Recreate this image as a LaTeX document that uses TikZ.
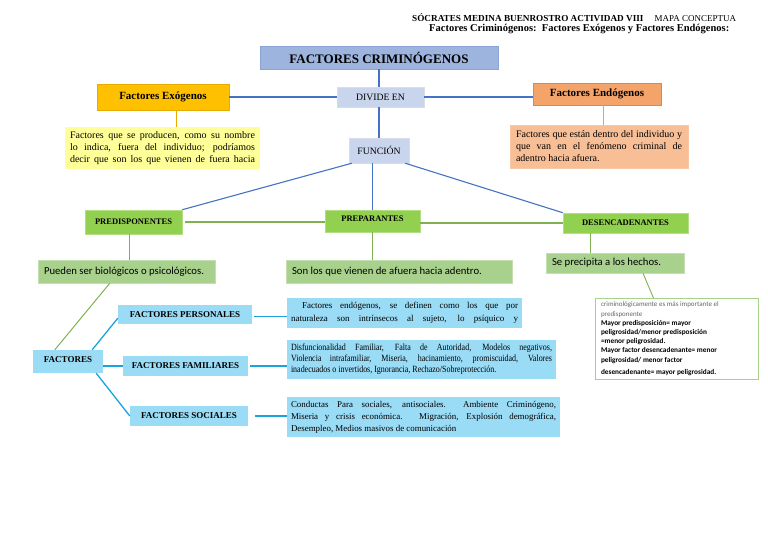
\documentclass[tikz,border=0pt]{standalone}
\usepackage{fontspec}
\setmainfont{Liberation Serif}
\newfontfamily\calfont{Carlito}
\newfontfamily\condfont[FakeStretch=0.84]{Liberation Serif}
\newcommand{\natsp}{\spaceskip=0pt\xspaceskip=0pt\relax}
\newcommand{\jline}[2]{\makebox[#1][s]{\natsp #2}}
\definecolor{titblue}{HTML}{9DB4DF}
\definecolor{titborder}{HTML}{8AA3D4}
\definecolor{divblue}{HTML}{C8D5EC}
\definecolor{lnblue}{HTML}{4472C4}
\definecolor{orangeA}{HTML}{FFC000}
\definecolor{orangeB}{HTML}{E6AC00}
\definecolor{yellowA}{HTML}{FFFF99}
\definecolor{salmonA}{HTML}{F4A46A}
\definecolor{salmonB}{HTML}{F8BF97}
\definecolor{salmonL}{HTML}{E8A06A}
\definecolor{greenA}{HTML}{92D050}
\definecolor{greenB}{HTML}{A9D18E}
\definecolor{greenL}{HTML}{7FB152}
\definecolor{cyanA}{HTML}{9ADBF6}
\definecolor{cyanL}{HTML}{1AA3DD}
\begin{document}
\begin{tikzpicture}[x=1pt,y=-1pt,
  bx/.style={inner sep=0pt, align=center},
  bluebox/.style={bx, fill=titblue, draw=titborder, line width=0.8pt},
  divbox/.style={bx, fill=divblue, draw=divblue!80!black!40, line width=0.5pt},
  orbox/.style={bx, fill=orangeA, draw=orangeB, line width=0.6pt},
  salbox/.style={bx, fill=salmonA, draw=salmonA!85!black, line width=0.5pt},
  grbox/.style={bx, fill=greenA, draw=greenA!70!white, line width=0.6pt},
  pgbox/.style={bx, fill=greenB, draw=greenB!70!white, line width=0.5pt},
  cybox/.style={bx, fill=cyanA},
  jtext/.style={align=left, inner xsep=6pt, inner ysep=0pt},
  bline/.style={draw=lnblue, line width=1.1pt},
  gline/.style={draw=greenL, line width=1.1pt},
  cline/.style={draw=cyanL, line width=1.3pt},
  hdfont/.style={font=\bfseries\fontsize{8.5}{10}\selectfont},
  fachd/.style={font=\bfseries\fontsize{9}{10}\selectfont},
  ser/.style={font=\fontsize{10}{12}\selectfont},
  cal/.style={font=\calfont\fontsize{10.7}{12}\selectfont}
]
\useasboundingbox (0,0) rectangle (768,543);

% header
\node[bx, anchor=west] (h1) at (412,18) {{\fontsize{9.2}{10}\selectfont\bfseries SÓCRATES MEDINA BUENROSTRO ACTIVIDAD VIII}\hspace{1.1em}{\fontsize{9}{10}\selectfont MAPA CONCEPTUA}};
\node[bx, anchor=west] (h2) at (429,29) {\fontsize{10.5}{12}\selectfont\bfseries Factores Criminógenos:\ \ Factores Exógenos y Factores Endógenos:};

% top part
\node[bluebox, minimum width=238pt, minimum height=23pt, font=\bfseries\fontsize{13}{15}\selectfont] (fc) at (379,57.5) {FACTORES CRIMINÓGENOS};
\node[divbox, minimum width=87pt, minimum height=20pt, font=\fontsize{9.7}{11}\selectfont] (div) at (380.5,97) {DIVIDE EN};
\node[orbox, minimum width=132pt, minimum height=26pt, font=\bfseries\fontsize{11}{12}\selectfont] (exo) at (163,97) {Factores Exógenos};
\node[salbox, minimum width=128pt, minimum height=22pt, font=\bfseries\fontsize{11}{12}\selectfont] (endo) at (597,94) {Factores Endógenos};
\node[bx, jtext, fill=yellowA, text width=185pt, inner xsep=5pt, minimum height=42pt, ser] (exoT) at (162.5,148) {\jline{185pt}{Factores que se producen, como su nombre}\\ \jline{185pt}{lo indica, fuera del individuo; podríamos}\\ \jline{185pt}{decir que son los que vienen de fuera hacia}};
\node[bx, jtext, fill=salmonB, draw=salmonA!60, line width=0.5pt, text width=166pt, minimum height=43pt, ser] (endoT) at (599,146.5) {\jline{166pt}{Factores que están dentro del individuo y}\\ \jline{166pt}{que van en el fenómeno criminal de}\\ \natsp adentro hacia afuera.};
\node[divbox, minimum width=60pt, minimum height=25pt, font=\fontsize{9.7}{11}\selectfont] (fun) at (379,150.5) {FUNCIÓN};

\draw[bline] (fc.south) -- (fc.south |- div.north);
\draw[bline] (exo.east) -- (div.west);
\draw[bline] (div.east) -- (div.east -| endo.west);
\draw[bline] (fun.north |- div.south) -- (fun.north);
\draw[draw=orangeB, line width=1pt] ([xshift=13pt]exo.south) -- ([xshift=13pt]exo.south |- exoT.north);
\draw[draw=salmonL, line width=1pt] ([xshift=6pt]endo.south) -- ([xshift=6pt]endo.south |- endoT.north);

% middle
\node[grbox, minimum width=97pt, minimum height=24pt, hdfont] (pre) at (133.5,222) {PREDISPONENTES};
\node[grbox, minimum width=95pt, minimum height=22pt, hdfont] (prep) at (372.5,221) {\raisebox{4pt}{PREPARANTES}};
\node[grbox, minimum width=125pt, minimum height=20pt, hdfont] (des) at (625.5,223) {DESENCADENANTES};

\draw[bline] ([xshift=3pt]fun.south west) -- (pre.north east);
\draw[bline] (fun.south -| prep.north) -- (prep.north);
\draw[bline] ([xshift=-4pt]fun.south east) -- (des.north west);
\draw[gline] ([xshift=3pt]pre.east) -- (pre.east -| prep.west);
\draw[gline] ([yshift=-2pt]prep.east) -- ([yshift=-2pt]prep.east -| des.west);

\node[pgbox, minimum width=177pt, minimum height=23pt, text width=165pt, align=left, cal] (pue) at (126.5,271.5) {\natsp Pueden ser biológicos o psicológicos.};
\node[pgbox, minimum width=226pt, minimum height=23pt, text width=214pt, align=left, cal] (son) at (399,271.5) {\natsp Son los que vienen de afuera hacia adentro.};
\node[pgbox, minimum width=138pt, minimum height=20pt, text width=126pt, align=left, cal] (sep) at (615,263) {\natsp Se precipita a los hechos.};

\draw[gline] ([xshift=-4pt]pre.south) -- ([xshift=-4pt]pre.south |- pue.north);
\draw[gline] (son.north -| prep.south) -- (prep.south);
\draw[gline] ([xshift=-35pt]des.south) -- ([xshift=-35pt]des.south |- sep.north);

\node[bx, draw=greenB, line width=0.8pt, fill=white, minimum width=163pt, minimum height=81pt, text width=151pt, align=left, inner xsep=6pt] (note) at (676.5,339) {\calfont\fontsize{7.3}{9.2}\selectfont\natsp
{\color{black!60}\fontsize{7}{9.2}\selectfont criminológicamente es más importante el\\ predisponente}\\
\textbf{Mayor predisposición= mayor}\\
\textbf{peligrosidad/menor predisposición}\\
\textbf{=menor peligrosidad.}\\
\textbf{Mayor factor desencadenante= menor}\\
\textbf{peligrosidad/ menor factor}\\[0.5pt]
\textbf{desencadenante= mayor peligrosidad.}};
\draw[gline, line width=0.9pt] ([xshift=28pt]sep.south) -- ([xshift=-23pt]note.north);

% bottom
\node[cybox, minimum width=70pt, minimum height=23pt, fachd] (fac) at (68,361.5) {\raisebox{3pt}{FACTORES}};
\node[cybox, minimum width=134pt, minimum height=19pt, fachd] (per) at (185,314.5) {FACTORES PERSONALES};
\node[cybox, minimum width=125pt, minimum height=20pt, fachd] (fam) at (185.5,366) {FACTORES FAMILIARES};
\node[cybox, minimum width=118pt, minimum height=20pt, fachd] (soc) at (189,416) {FACTORES SOCIALES};

\draw[gline, line width=1pt] ([xshift=72pt]pue.south west) -- ([xshift=22pt]fac.north west);
\draw[cline] ([xshift=-11pt]fac.north east) -- ([yshift=6pt]per.south west);
\draw[cline, line width=2pt] (fac.east |- fam.west) -- (fam.west);
\draw[cline] ([xshift=-7pt]fac.south east) -- (soc.west);

\node[cybox, jtext, inner xsep=4pt, text width=227pt, minimum height=30pt, font=\fontsize{9}{13}\selectfont] (perT) at (404.5,313) {\hspace*{11pt}\jline{216pt}{Factores endógenos, se definen como los que por}\\ \jline{227pt}{naturaleza son intrínsecos al sujeto, lo psíquico y}};
\node[cybox, jtext, inner xsep=4pt, text width=261pt, minimum height=39pt, font=\condfont\fontsize{9.5}{11}\selectfont] (famT) at (421.5,359.5) {\jline{261pt}{Disfuncionalidad Familiar, Falta de Autoridad, Modelos negativos,}\\ \jline{261pt}{Violencia intrafamiliar, Miseria, hacinamiento, promiscuidad, Valores}\\ \natsp inadecuados o invertidos, Ignorancia, Rechazo/Sobreprotección.};
\node[cybox, jtext, inner xsep=4pt, text width=265pt, minimum height=40pt, font=\fontsize{8.9}{12}\selectfont] (socT) at (423.5,417) {\jline{265pt}{Conductas Para sociales, antisociales.\ \ Ambiente Criminógeno,}\\ \jline{265pt}{Miseria y crisis económica. Migración, Explosión demográfica,}\\ \natsp Desempleo, Medios masivos de comunicación};

\draw[cline] ([xshift=2pt,yshift=-2pt]per.east) -- ([yshift=-2pt]per.east -| perT.west);
\draw[cline] ([xshift=2pt]fam.east) -- (fam.east -| famT.west);
\draw[cline] ([xshift=7pt]soc.east) -- (soc.east -| socT.west);
\end{tikzpicture}
\end{document}
